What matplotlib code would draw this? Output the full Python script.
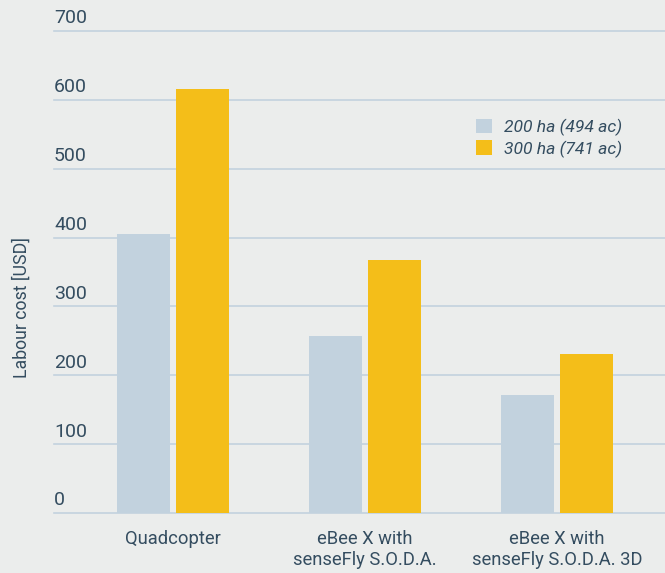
import matplotlib.pyplot as plt
import numpy as np

categories = ['Quadcopter', 'eBee X with\nsenseFly S.O.D.A.', 'eBee X with\nsenseFly S.O.D.A. 3D']
series_names = ['200 ha (494 ac)', '300 ha (741 ac)']
cost_200ha = [405, 257, 171]
cost_300ha = [616, 368, 231]
yticks = [0, 100, 200, 300, 400, 500, 600, 700]

bg = '#ebedec'
text_col = '#344d60'
grid_col = '#c3d2de'
light_col = '#c2d2de'
yellow_col = '#f4be19'

plt.rcParams['font.family'] = ['Roboto', 'DejaVu Sans']

fig = plt.figure(figsize=(6.65, 5.73), dpi=100, facecolor=bg)
ax = fig.add_axes([54 / 665, 1 - 513 / 573, 1 - 54 / 665, (513 - 31) / 573])
ax.set_facecolor(bg)

x = np.arange(len(categories))
w = 0.276
off = 0.154
ax.bar(x - off, cost_200ha, w, color=light_col, label=series_names[0], zorder=3)
ax.bar(x + off, cost_300ha, w, color=yellow_col, label=series_names[1], zorder=3)

ax.set_xlim(-0.62, 2.5625)
ax.set_ylim(0, 700)
for v in yticks:
    ax.axhline(v, color=grid_col, lw=1.2, zorder=1, clip_on=False)
    ax.text(0, v + 11, str(v), transform=ax.get_yaxis_transform(), ha='left', va='baseline',
            fontsize=14, color=text_col)

ax.set_yticks([])
ax.set_xticks(x)
ax.set_xticklabels(categories, fontsize=13.2, color=text_col, linespacing=1.25)
ax.tick_params(axis='x', length=0, pad=12)
for s in ax.spines.values():
    s.set_visible(False)

fig.text(22 / 665, 1 - 308 / 573, 'Labour cost [USD]', rotation=90, ha='center', va='center',
         fontsize=12.8, color=text_col)

leg = ax.legend(loc='upper left', bbox_to_anchor=(460 / 665, 1 - 103 / 573), bbox_transform=fig.transFigure,
                frameon=False, handlelength=0.9, handleheight=0.9, handletextpad=0.7, labelspacing=0.25,
                prop={'size': 12.6, 'style': 'italic'})
for t in leg.get_texts():
    t.set_color(text_col)

fig.savefig('out.png', dpi=100, facecolor=bg)
